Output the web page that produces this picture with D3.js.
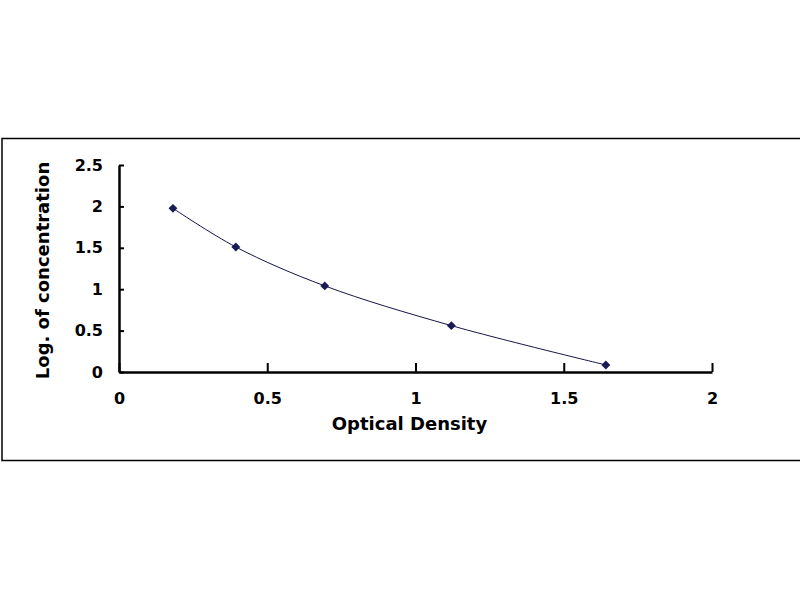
<!DOCTYPE html>
<html>
<head>
<meta charset="utf-8">
<script src="https://cdn.jsdelivr.net/npm/d3@7"></script>
<style>
  body { margin: 0; background: #fff; }
  text { font-family: "DejaVu Sans", Verdana, sans-serif; font-weight: bold; fill: #000; }
</style>
</head>
<body>
<div class="chart"></div>
<script>
// standard curve points
const od = [0.182, 0.394, 0.694, 1.121, 1.642]
const logConc = [1.977, 1.51, 1.04, 0.56, 0.085]
const xTicks = [0, 0.5, 1, 1.5, 2]
const yTicks = [0, 0.5, 1, 1.5, 2, 2.5]

const data = od.map((d, i) => ({x: d, y: logConc[i]}))

const margin = {top: 165, right: 88, bottom: 228, left: 119}
const width = 800 - margin.left - margin.right
const height = 600 - margin.top - margin.bottom

const root = d3.select(".chart").append("svg")
    .attr("width", 800)
    .attr("height", 600)

// outer frame
root.append("rect")
    .attr("x", 2)
    .attr("y", 138.5)
    .attr("width", 820)
    .attr("height", 322)
    .attr("fill", "none")
    .attr("stroke", "#000")
    .attr("stroke-width", 1.5)

const svg = root.append("g")
    .attr("transform", `translate(${margin.left},${margin.top})`)

const xScale = d3.scaleLinear().domain([0, 2]).range([0, width])
const yScale = d3.scaleLinear().domain([0, 2.5]).range([height, 0])

const xAxis = d3.axisBottom(xScale)
    .tickValues(xTicks)
    .tickSizeInner(-9)
    .tickSizeOuter(0)
    .tickPadding(21)
    .tickFormat(d3.format("~g"))

const yAxis = d3.axisLeft(yScale)
    .tickValues(yTicks)
    .tickSizeInner(-5)
    .tickSizeOuter(0)
    .tickPadding(16)
    .tickFormat(d3.format("~g"))

svg.append("g")
    .attr("transform", `translate(0,${height})`)
    .call(xAxis)
    .call(g => g.select(".domain").attr("stroke-width", 2.5))
    .call(g => g.selectAll(".tick line").attr("stroke-width", 2))
    .call(g => g.selectAll(".tick text").attr("font-size", 16).attr("font-family", null))

svg.append("g")
    .call(yAxis)
    .call(g => g.select(".domain").attr("stroke-width", 2.5))
    .call(g => g.selectAll(".tick line").attr("stroke-width", 2))
    .call(g => g.selectAll(".tick text").attr("font-size", 16).attr("font-family", null))

const line = d3.line()
    .x(d => xScale(d.x))
    .y(d => yScale(d.y))
    .curve(d3.curveCatmullRom.alpha(0.5))

svg.append("path")
    .datum(data)
    .attr("d", line)
    .attr("fill", "none")
    .attr("stroke", "#14144a")
    .attr("stroke-width", 1)

svg.selectAll(".pt")
    .data(data)
    .join("path")
    .attr("class", "pt")
    .attr("transform", d => `translate(${xScale(d.x)},${yScale(d.y)})`)
    .attr("d", d3.symbol(d3.symbolDiamond2, 50))
    .attr("fill", "#1a1a55")

svg.append("text")
    .attr("x", width / 2 - 6)
    .attr("y", height + 58)
    .attr("text-anchor", "middle")
    .attr("font-size", 18)
    .text("Optical Density")

svg.append("text")
    .attr("transform", `translate(-70,${height / 2 + 2}) rotate(-90)`)
    .attr("text-anchor", "middle")
    .attr("font-size", 18)
    .text("Log. of concentration")
</script>
</body>
</html>
